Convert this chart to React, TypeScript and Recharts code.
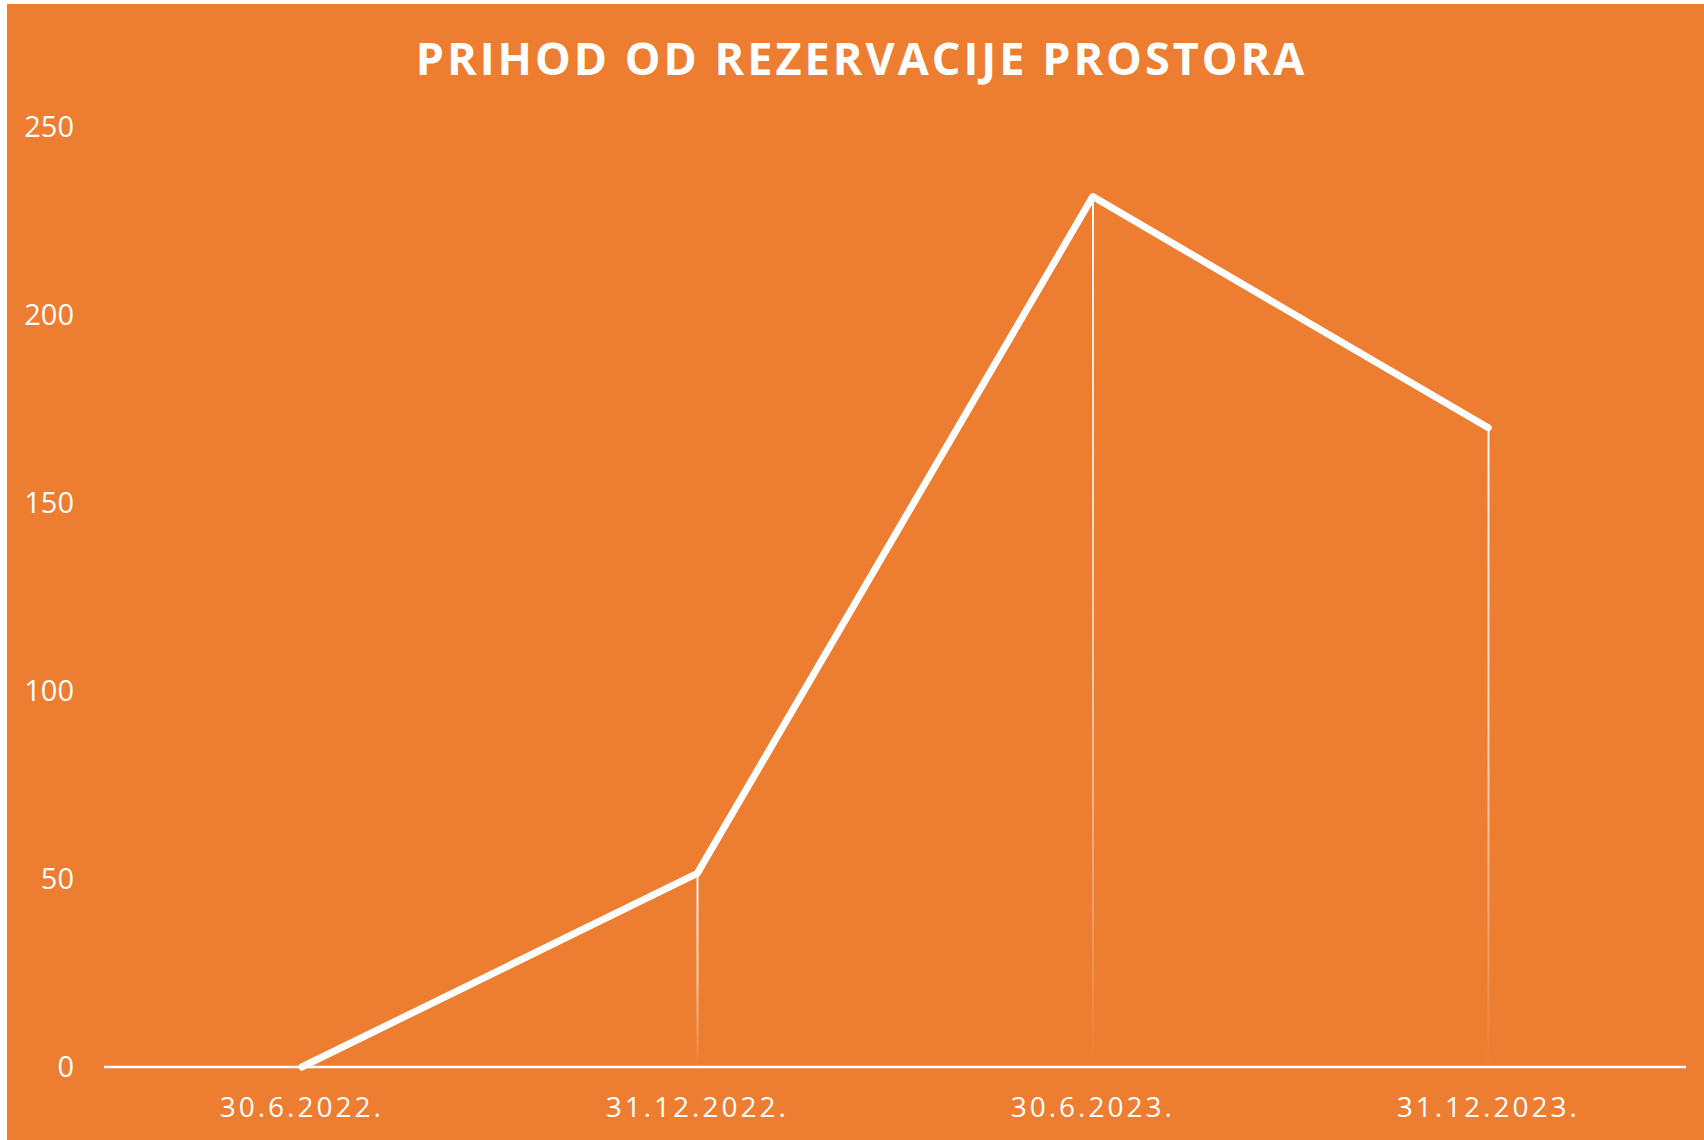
import { ComposedChart, Line, Bar, XAxis, YAxis } from "recharts";

const periods = ["30.6.2022.", "31.12.2022.", "30.6.2023.", "31.12.2023."];
const revenue = [0, 51.5, 231.5, 170];
const yTicks = [0, 50, 100, 150, 200, 250];

const ORANGE = "#ED7D31";

const data = periods.map((period, i) => ({ period, revenue: revenue[i] }));

export default function App() {
  return (
    <div
      style={{
        position: "absolute",
        left: 7,
        top: 4,
        width: 1697,
        height: 1136,
        background: ORANGE,
        fontFamily: "'Open Sans', sans-serif",
      }}
    >
      <div
        style={{
          position: "absolute",
          left: 6,
          top: 31,
          width: 1697,
          textAlign: "center",
          color: "#fff",
          fontWeight: 700,
          fontSize: 45,
          lineHeight: "45px",
          letterSpacing: 3,
        }}
      >
        PRIHOD OD REZERVACIJE PROSTORA
      </div>
      <ComposedChart
        width={1697}
        height={1136}
        data={data}
        margin={{ top: 123, right: 18, bottom: 0, left: 0 }}
      >
        <defs>
          <linearGradient id="dropFade" x1="0" y1="0" x2="0" y2="1">
            <stop offset="0%" stopColor="#fff" stopOpacity={0.95} />
            <stop offset="55%" stopColor="#fff" stopOpacity={0.6} />
            <stop offset="100%" stopColor="#fff" stopOpacity={0} />
          </linearGradient>
        </defs>
        <XAxis
          dataKey="period"
          height={73}
          axisLine={{ stroke: "#fff", strokeWidth: 2.5 }}
          tickLine={false}
          tickSize={0}
          tickMargin={30}
          tick={{ fill: "#fff", fontSize: 28, letterSpacing: 3 }}
        />
        <YAxis
          width={97}
          domain={[0, 250]}
          ticks={yTicks}
          axisLine={false}
          tickLine={false}
          tickSize={0}
          tickMargin={30}
          tick={{ fill: "#fff", fontSize: 29 }}
        />
        <Bar dataKey="revenue" barSize={2} fill="url(#dropFade)" isAnimationActive={false} />
        <Line
          type="linear"
          dataKey="revenue"
          stroke="#fff"
          strokeWidth={7}
          strokeLinecap="round"
          strokeLinejoin="round"
          dot={false}
          activeDot={false}
          isAnimationActive={false}
        />
      </ComposedChart>
    </div>
  );
}
